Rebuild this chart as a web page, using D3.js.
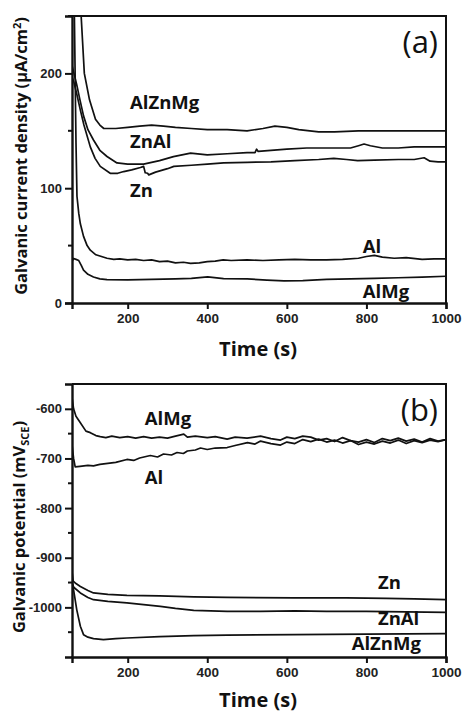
<!DOCTYPE html>
<html>
<head>
<meta charset="utf-8">
<script src="https://cdn.jsdelivr.net/npm/d3@7"></script>
<style>
  body { margin: 0; background: #fff; }
  svg { display: block; }
</style>
</head>
<body>
<svg id="chart" width="462" height="714"></svg>
<script>
// ---- data: [time (s), value] ----
// (a) galvanic current density, uA/cm2
const a_AlZnMg = [[60,420],[75,320],[83,250],[91,200],[104,177],[119,160],[130,155],[140,152],[170,152],[200,153],[230,154],[260,155],[290,154],[320,153],[360,152],[400,151],[450,151],[500,150],[540,152],[570,154],[600,153],[630,151],[680,149],[720,149],[780,150],[820,150],[880,150],[940,150],[1000,150]]
const a_ZnAl = [[60,207],[65,200],[72,190],[80,177],[89,163],[100,151],[114,142],[130,133],[148,127.6],[173,122],[200,121],[240,121],[280,124],[315,127.5],[358,130.5],[400,129],[450,130],[500,131],[520,131],[524,134],[528,132],[560,133],[600,134],[650,135],[718,135],[760,135],[780,137],[794,138.5],[810,137],[840,135],[880,135],[920,136],[960,136],[1000,136]]
const a_Zn = [[60,197],[65,192],[72,182],[81,168],[90,155],[106,136],[118,126],[131,119],[156,113],[175,113],[190,114.5],[210,116],[232,118],[240,119],[244,113.5],[250,113],[253,111.6],[270,114],[300,117],[316,119],[360,120],[400,121],[441,122],[500,122.5],[560,123],[620,124],[680,125],[718,126],[750,125],[778,124],[820,124.5],[880,125],[920,125],[945,126.5],[960,123.5],[980,123],[1000,123]]
const a_Al = [[60,420],[66,250],[70,140],[72.5,93],[77,78],[81,69],[89,58],[98,50],[106,46],[120,42],[148,39],[165,38],[180,38.5],[200,37.5],[220,38],[240,37],[260,37.5],[280,36],[300,36.5],[320,35],[340,35.5],[358,34.5],[380,35],[400,36],[420,36.5],[440,37.5],[460,37],[500,37.5],[540,37],[580,37.5],[620,38],[660,37.5],[700,37.5],[740,38],[780,39],[800,40.5],[820,41.5],[840,40],[870,39],[900,39.5],[940,38],[970,38.5],[1000,38.5]]
const a_AlMg = [[60,36],[64,38.8],[70,38],[77,37],[83,33],[89,28.6],[100,25],[114,22.7],[130,21],[148,20.4],[200,20.2],[260,20.5],[320,21],[360,21.5],[401,22.7],[441,21.3],[500,21],[550,20],[593,19.2],[640,19.5],[700,20.5],[760,21],[820,21.5],[880,22],[940,22.5],[1000,23.3]]

// (b) galvanic potential, mV vs SCE
const b_AlMg = [[60,-577],[64,-600],[70,-615],[81,-628],[95,-645],[106,-648],[120,-654],[131,-656],[145,-658],[160,-655],[180,-658],[200,-656],[220,-659],[240,-656],[260,-659],[280,-657],[300,-659],[320,-655],[341,-651],[350,-657],[370,-655],[400,-658],[420,-656],[450,-661],[470,-657],[500,-659],[534,-655],[560,-660],[584,-663],[600,-657],[620,-660],[640,-655],[660,-657],[680,-663],[700,-660],[720,-666],[740,-658],[760,-664],[780,-667],[800,-662],[820,-668],[840,-660],[860,-664],[880,-659],[900,-665],[920,-661],[940,-667],[960,-660],[980,-665],[1000,-662]]
const b_Al = [[60,-672],[64,-700],[68,-717],[80,-716],[100,-714],[114,-715],[130,-712],[150,-710],[170,-708],[198,-702],[215,-704],[230,-699],[257,-694],[275,-697],[290,-691],[310,-693],[324,-688],[340,-690],[350,-685],[370,-683],[383,-679],[400,-682],[420,-679],[450,-678],[470,-674],[501,-668],[520,-671],[534,-665],[560,-670],[584,-673],[600,-667],[620,-670],[640,-662],[660,-666],[680,-661],[700,-667],[720,-663],[740,-669],[760,-664],[780,-672],[800,-667],[820,-671],[840,-665],[860,-669],[880,-663],[900,-670],[920,-664],[940,-668],[960,-663],[980,-666],[1000,-662]]
const b_Zn = [[60,-928],[63,-947],[70,-952],[81,-958],[100,-966],[114,-971],[150,-974],[198,-976],[280,-977],[366,-979],[450,-980],[618,-981],[750,-981],[850,-982],[920,-983],[1000,-984.5]]
const b_ZnAl = [[60,-952],[65,-960],[81,-971],[100,-980],[114,-984.5],[150,-988],[198,-991],[240,-994.6],[282,-998],[320,-1002],[366,-1006],[450,-1008],[534,-1008],[620,-1007],[700,-1008],[800,-1008],[900,-1009],[1000,-1010]]
const b_AlZnMg = [[60,-945],[66,-975],[72,-1005],[81,-1038],[89,-1055],[100,-1060],[114,-1063],[139,-1065],[170,-1063],[198,-1061.7],[280,-1059],[366,-1057],[450,-1056],[618,-1055],[800,-1054],[1000,-1053]]

const xTicks = [200, 400, 600, 800, 1000]
const yTicksA = [0, 100, 200]
const yMinorA = [50, 150, 250]
const yTicksB = [-600, -700, -800, -900, -1000]
const yMinorB = [-650, -750, -850, -950, -1050]

// labels placed on the plot (baseline): [text, time, value]
const labelsA = [["AlZnMg", 206, 169], ["ZnAl", 206, 135], ["Zn", 206, 92.5], ["Al", 791, 43.5], ["AlMg", 791, 4]]
const labelsB = [["AlMg", 243, -632], ["Al", 243, -751], ["Zn", 829, -964], ["ZnAl", 829, -1035], ["AlZnMg", 763, -1085]]

///// layout
const svg = d3.select("#chart")
const left = 72, right = 446

const panels = [
  { id: "a", top: 16, bottom: 303, ydom: [0, 250], ticks: yTicksA, minor: yMinorA, tag: "(a)", titleY: 356,
    series: [a_AlZnMg, a_ZnAl, a_Zn, a_Al, a_AlMg], labels: labelsA, tickFmt: d => d },
  { id: "b", top: 384, bottom: 657, ydom: [-1100, -550], ticks: yTicksB, minor: yMinorB, tag: "(b)", titleY: 707,
    series: [b_AlMg, b_Al, b_Zn, b_ZnAl, b_AlZnMg], labels: labelsB, tickFmt: d => "-" + Math.abs(d) }
]

const tickFont = "'Liberation Sans', Arial, sans-serif"
const labFont = "'Open Sans', 'Noto Sans', sans-serif"

panels.forEach(function(p) {
  const x = d3.scaleLinear().domain([60, 1000]).range([left, right])
  const y = d3.scaleLinear().domain(p.ydom).range([p.bottom, p.top])

  svg.append("clipPath").attr("id", "clip_" + p.id)
    .append("rect")
      .attr("x", left).attr("y", p.top)
      .attr("width", right - left).attr("height", p.bottom - p.top)

  const line = d3.line()
    .x(d => x(d[0]))
    .y(d => y(d[1]))

  svg.append("g").attr("clip-path", "url(#clip_" + p.id + ")")
    .selectAll("path")
    .data(p.series)
    .enter()
    .append("path")
      .attr("d", line)
      .attr("fill", "none")
      .attr("stroke", "#111")
      .attr("stroke-width", 1.7)
      .attr("stroke-linejoin", "round")

  // frame (top and right)
  svg.append("path")
    .attr("d", "M" + left + "," + p.top + "H" + right + "V" + p.bottom)
    .attr("fill", "none").attr("stroke", "#111").attr("stroke-width", 2)

  // x axis
  const gx = svg.append("g")
    .attr("transform", "translate(0," + p.bottom + ")")
    .call(d3.axisBottom(x).tickValues(xTicks).tickFormat(d => d).tickSizeOuter(0).tickSize(6).tickPadding(4))
  gx.select(".domain").attr("stroke-width", 2.4).attr("stroke", "#111")
  gx.selectAll(".tick line").attr("stroke-width", 2).attr("stroke", "#111")
  gx.selectAll("text").style("font-family", tickFont).style("font-weight", "bold")
    .style("font-size", "13.5px").attr("fill", "#222")

  // y axis
  const gy = svg.append("g")
    .attr("transform", "translate(" + left + ",0)")
    .call(d3.axisLeft(y).tickValues(p.ticks).tickFormat(p.tickFmt).tickSizeOuter(0).tickSize(7).tickPadding(3))
  gy.select(".domain").attr("stroke-width", 2.4).attr("stroke", "#111")
  gy.selectAll(".tick line").attr("stroke-width", 2).attr("stroke", "#111")
  gy.selectAll("text").style("font-family", tickFont).style("font-weight", "bold")
    .style("font-size", "13px").attr("fill", "#222")

  svg.append("g").selectAll("line")
    .data(p.minor)
    .enter()
    .append("line")
      .attr("x1", left - 4).attr("x2", left)
      .attr("y1", d => y(d)).attr("y2", d => y(d))
      .attr("stroke", "#111").attr("stroke-width", 2)

  // series labels
  svg.append("g").selectAll("text")
    .data(p.labels)
    .enter()
    .append("text")
      .attr("x", d => x(d[1]))
      .attr("y", d => y(d[2]))
      .style("font-family", labFont).style("font-weight", "bold").style("font-size", "18.5px")
      .attr("fill", "#111")
      .text(d => d[0])

  // panel tag
  svg.append("text")
    .attr("x", 438).attr("y", p.top + 37)
    .attr("text-anchor", "end")
    .style("font-family", labFont).style("font-size", "31px")
    .attr("fill", "#111")
    .text(p.tag)

  // x title
  svg.append("text")
    .attr("x", 258).attr("y", p.titleY)
    .attr("text-anchor", "middle")
    .style("font-family", labFont).style("font-weight", "bold").style("font-size", "20px")
    .attr("fill", "#111")
    .text("Time (s)")
})

// y titles
const ta = svg.append("text")
  .attr("transform", "translate(27,156) rotate(-90)")
  .attr("text-anchor", "middle")
  .style("font-family", labFont).style("font-weight", "bold").style("font-size", "16.5px")
  .attr("fill", "#111")
ta.append("tspan").text("Galvanic current density (μA/cm")
ta.append("tspan").attr("dy", -6).style("font-size", "11px").text("2")
ta.append("tspan").attr("dy", 6).text(")")

const tb = svg.append("text")
  .attr("transform", "translate(25,527) rotate(-90)")
  .attr("text-anchor", "middle")
  .style("font-family", labFont).style("font-weight", "bold").style("font-size", "16.5px")
  .attr("fill", "#111")
tb.append("tspan").text("Galvanic potential (mV")
tb.append("tspan").attr("dy", 4).style("font-size", "11px").text("SCE")
tb.append("tspan").attr("dy", -4).text(")")
</script>
</body>
</html>
